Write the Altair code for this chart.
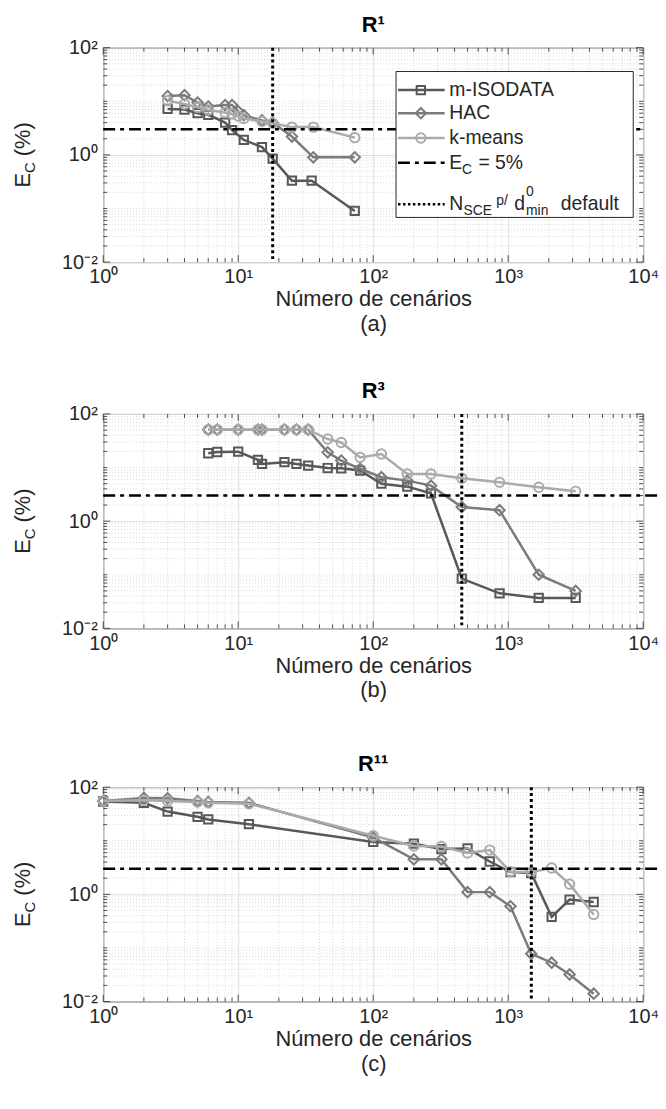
import altair as alt
import pandas as pd

# ---------------- data ----------------
# panel (a) R^1
a_iso_x = [3, 4, 5, 6, 8, 9, 11, 15, 18, 25, 35, 73]
a_iso_y = [7.2, 7.0, 6.0, 5.6, 4.0, 2.9, 1.9, 1.4, 0.85, 0.33, 0.33, 0.09]
a_hac_x = [3, 4, 5, 6, 8, 9, 10, 11, 15, 18, 25, 36, 73]
a_hac_y = [12.5, 13.0, 9.5, 8.0, 8.5, 8.5, 6.5, 5.5, 4.4, 4.0, 2.2, 0.9, 0.9]
a_km_x = [3, 4, 5, 6, 8, 9, 10, 11, 15, 18, 25, 36, 73]
a_km_y = [10.3, 8.9, 7.7, 6.9, 6.2, 5.8, 5.3, 4.8, 4.2, 3.9, 3.3, 3.3, 2.1]

# panel (b) R^3
b_x = [6, 7, 10, 14, 15, 22, 27, 33, 46, 58, 80, 115, 179, 268, 453, 863, 1683, 3162]
b_iso_y = [18.5, 19.5, 19.8, 13.9, 11.7, 12.6, 11.7, 10.9, 9.8, 9.7, 8.8, 5.0, 4.4, 3.3,
           0.085, 0.045, 0.037, 0.037]
b_hac_y = [51, 51, 51, 51, 51, 51, 51, 51, 19.2, 13.5, 9.5, 6.6, 5.7, 4.6, 1.84, 1.6, 0.1, 0.05]
b_km_y = [51, 51, 51, 51, 51, 51, 51, 51, 34, 29.4, 15.5, 17.9, 7.6, 7.6, 6.3, 5.3, 4.3, 3.6]

# panel (c) R^11
c_x = [1, 2, 3, 5, 6, 12, 100, 200, 320, 500, 730, 1040, 1480, 2100, 2850, 4300]
c_iso_y = [54, 51, 35, 28, 25, 20.4, 9.5, 8.8, 7.0, 7.2, 4.1, 2.6, 2.5, 0.38, 0.80, 0.72]
c_hac_y = [55, 63, 62, 55, 53, 51, 11.5, 4.5, 4.5, 1.1, 1.1, 0.6, 0.078, 0.053, 0.032, 0.014]
c_km_y = [55, 57, 55, 53, 51, 49, 12.4, 8.0, 7.8, 5.9, 6.7, 2.65, 2.6, 3.1, 1.55, 0.42]

methods = ["m-ISODATA", "HAC", "k-means"]
ec_limit = [3.0]
n_default = [18, 453, 1484]
titles = ["R¹", "R³", "R¹¹"]
tags = ["(a)", "(b)", "(c)"]

x_major = [1, 10, 100, 1000, 10000]
y_major = [0.01, 1, 100]
x_minor = [m * 10 ** e for e in range(0, 4) for m in range(2, 10)]
y_minor = [m * 10.0 ** e for e in range(-2, 2) for m in range(2, 10)] + [0.1, 10]

# ---------------- styling ----------------
FONT = "Liberation Sans"
INK = "#262626"
COLORS = ["#585858", "#7b7b7b", "#aaaaaa"]
SHAPES = ["square", "diamond", "circle"]
SIZES = [70, 110, 90]
W, H = 544, 216
XS = alt.Scale(type="log", domain=[1, 10000])
YS = alt.Scale(type="log", domain=[0.01, 100])
DASHDOT = [12, 5, 4, 5]
DOTTED = [3, 3]

x_label_expr = ("datum.value < 5 ? '10⁰' : datum.value < 50 ? '10¹' : datum.value < 500 ? '10²'"
                " : datum.value < 5000 ? '10³' : '10⁴'")
y_label_expr = "datum.value < 0.1 ? '10⁻²' : datum.value < 10 ? '10⁰' : '10²'"

one = pd.DataFrame({"k": [0]})


def make_axes(tag):
    ax = alt.Axis(
        values=x_major, labelExpr=x_label_expr, grid=True, gridColor="#dedede", gridWidth=1,
        ticks=False, domain=False, labelFontSize=20, labelFont=FONT, labelColor=INK,
        labelPadding=5, labelFlush=False, title=["Número de cenários", tag], titleFontSize=22,
        titleFont=FONT, titleFontWeight="normal", titleColor=INK, titlePadding=2,
        titleLineHeight=25)
    ay = alt.Axis(
        values=y_major, labelExpr=y_label_expr, grid=True, gridColor="#dedede", gridWidth=1,
        ticks=False, domain=False, labelFontSize=20, labelFont=FONT, labelColor=INK,
        labelPadding=6, labelFlush=False, title=None)
    return ax, ay


def tick_layers(AX, AY):
    out = []
    for vals, L in ((x_major, 7), (x_minor, 4)):
        d = pd.DataFrame({"v": vals})
        for y0, y1 in ((0, L), (H - L, H)):
            out.append(alt.Chart(d).mark_rule(color=INK, strokeWidth=0.8).encode(
                x=alt.X("v:Q", scale=XS, axis=AX), y=alt.value(y0), y2=alt.value(y1)))
    for vals, L in ((y_major, 7), (y_minor, 4)):
        d = pd.DataFrame({"v": vals})
        for x0, x1 in ((0, L), (W - L, W)):
            out.append(alt.Chart(d).mark_rule(color=INK, strokeWidth=0.8).encode(
                y=alt.Y("v:Q", scale=YS, axis=AY), x=alt.value(x0), x2=alt.value(x1)))
    return out


def legend_layers():
    oy = -5
    out = [alt.Chart(one).mark_rect(fill="white", stroke=INK, strokeWidth=1).encode(
        x=alt.value(295), x2=alt.value(534), y=alt.value(29 + oy), y2=alt.value(176 + oy))]
    rows = [47.7 + oy, 71 + oy, 96 + oy]
    for i, name in enumerate(methods):
        y = rows[i]
        out.append(alt.Chart(one).mark_rule(color=COLORS[i], strokeWidth=2.5).encode(
            x=alt.value(297), x2=alt.value(344), y=alt.value(y)))
        out.append(alt.Chart(one).mark_point(shape=SHAPES[i], filled=False, color=COLORS[i],
                                             strokeWidth=2, size=SIZES[i], opacity=1).encode(
            x=alt.value(320), y=alt.value(y)))
        out.append(alt.Chart(one).mark_text(text=name, align="left", baseline="middle",
                                            fontSize=19.5, font=FONT, color=INK).encode(
            x=alt.value(348.7), y=alt.value(y)))
    y = 121 + oy
    out.append(alt.Chart(one).mark_rule(color="black", strokeWidth=2.5, strokeDash=DASHDOT).encode(
        x=alt.value(297), x2=alt.value(344), y=alt.value(y)))
    pieces = [("E", 348.7, y, 19.5), ("C", 361.5, y + 7, 14), ("= 5%", 378, y, 19.5)]
    y2 = 162.7 + oy
    out.append(alt.Chart(one).mark_rule(color="black", strokeWidth=2.5, strokeDash=[2.5, 2.5]).encode(
        x=alt.value(297), x2=alt.value(344), y=alt.value(y2)))
    pieces += [("N", 348.7, y2, 19.5), ("SCE", 363, y2 + 7, 14), ("p/", 396, y2 - 3, 14),
               ("d", 414, y2, 19.5), ("0", 426, y2 - 12, 14), ("min", 426, y2 + 7, 14),
               ("default", 461, y2, 19.5)]
    for t, xx, yy, fs in pieces:
        out.append(alt.Chart(one).mark_text(text=t, align="left", baseline="middle",
                                            fontSize=fs, font=FONT, color=INK).encode(
            x=alt.value(xx), y=alt.value(yy)))
    return out


def ytitle_layers():
    out = []
    for t, yy, dx, fs in (("E", 140.9, 0, 22), ("C", 126.2, 7, 15), ("(%)", 109.3, 0, 22)):
        out.append(alt.Chart(one).mark_text(text=t, angle=270, align="left", baseline="middle",
                                            fontSize=fs, font=FONT, color=INK).encode(
            x=alt.value(-81 + dx), y=alt.value(yy)))
    return out


def panel(xs_list, ys_list, vline, title, tag, legend, dash_extend):
    AX, AY = make_axes(tag)
    grid_x = alt.Chart(pd.DataFrame({"v": x_minor})).mark_rule(
        color="#cfcfcf", strokeWidth=0.8, strokeDash=[1, 2]).encode(
        x=alt.X("v:Q", scale=XS, axis=AX))
    grid_y = alt.Chart(pd.DataFrame({"v": y_minor})).mark_rule(
        color="#cfcfcf", strokeWidth=0.8, strokeDash=[1, 2]).encode(
        y=alt.Y("v:Q", scale=YS, axis=AY))
    layers = [grid_x, grid_y] + tick_layers(AX, AY)
    for i, name in enumerate(methods):
        d = pd.DataFrame({"n": xs_list[i], "ec": ys_list[i]})
        enc = dict(x=alt.X("n:Q", scale=XS, axis=AX), y=alt.Y("ec:Q", scale=YS, axis=AY))
        layers.append(alt.Chart(d).mark_line(color=COLORS[i], strokeWidth=2.5).encode(**enc))
        layers.append(alt.Chart(d).mark_point(shape=SHAPES[i], filled=False, color=COLORS[i],
                                              strokeWidth=2, size=SIZES[i], opacity=1).encode(**enc))
    layers.append(alt.Chart(pd.DataFrame({"ec": ec_limit})).mark_rule(
        color="black", strokeWidth=2.5, strokeDash=DASHDOT).encode(
        y=alt.Y("ec:Q", scale=YS, axis=AY), x=alt.value(0), x2=alt.value(W + dash_extend)))
    layers.append(alt.Chart(pd.DataFrame({"n": [vline]})).mark_rule(
        color="black", strokeWidth=3, strokeDash=DOTTED).encode(
        x=alt.X("n:Q", scale=XS, axis=AX)))
    if legend:
        layers += legend_layers()
    layers += ytitle_layers()
    return alt.layer(*layers).properties(
        width=W, height=H,
        title=alt.TitleParams(title, fontSize=22, fontWeight="bold", font=FONT, color="black",
                              offset=1, anchor="middle"))


pa = panel([a_iso_x, a_hac_x, a_km_x], [a_iso_y, a_hac_y, a_km_y], n_default[0], titles[0], tags[0],
           True, 0)
pb = panel([b_x, b_x, b_x], [b_iso_y, b_hac_y, b_km_y], n_default[1], titles[1], tags[1], False, 17)
pc = panel([c_x, c_x, c_x], [c_iso_y, c_hac_y, c_km_y], n_default[2], titles[2], tags[2], False, 17)

top_two = alt.vconcat(pa, pb, spacing=44)
chart = alt.vconcat(top_two, pc, spacing=51).properties(
    padding={"left": 11, "top": 9, "right": 4, "bottom": 4},
    background="white",
).configure_view(stroke=INK, strokeWidth=1)

chart.save("out.html", embed_options={"renderer": "svg", "actions": False})
